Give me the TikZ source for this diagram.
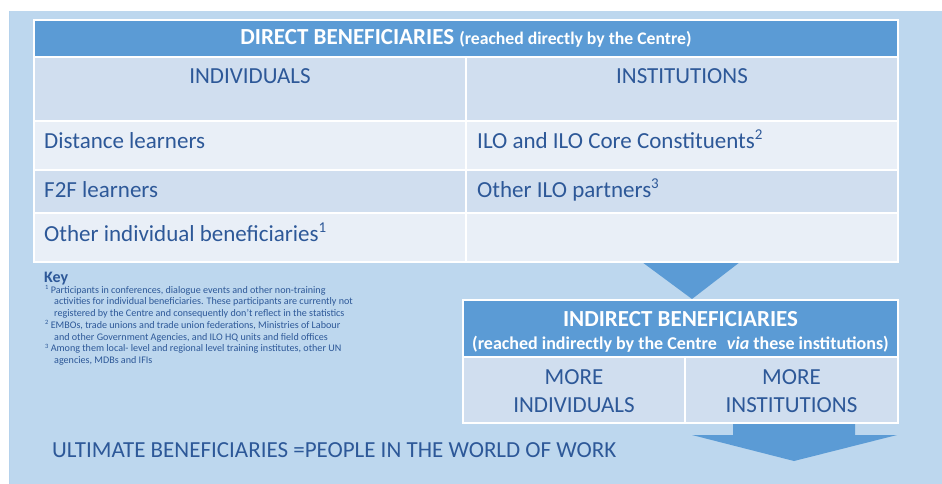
\documentclass[tikz,border=0pt]{standalone}
\usepackage{fontspec}
\setmainfont{Carlito}
\usetikzlibrary{positioning,calc}

\definecolor{panelblue}{HTML}{BDD7EE}
\definecolor{headblue}{HTML}{5B9BD5}
\definecolor{rowdark}{HTML}{D0DEEF}
\definecolor{rowlight}{HTML}{E9EFF7}
\definecolor{inkblue}{HTML}{2D5898}

\newcommand{\fnmark}[1]{\raisebox{0.75ex}{\fontsize{15}{15}\selectfont #1}}
\newcommand{\keymark}[1]{\raisebox{0.7ex}{\fontsize{6.5}{6.5}\selectfont #1}}

\tikzset{
  cell/.style={draw=white, line width=1.5pt, anchor=north west, inner sep=0pt, outer sep=0pt, minimum width=432pt},
  headcell/.style={cell, fill=headblue, text=white, font=\bfseries\fontsize{23}{26}\selectfont},
  celltext/.style={anchor=base west, text=inkblue, inner sep=0pt, font=\fontsize{23}{27}\selectfont},
  coltext/.style={celltext, anchor=base},
  moretext/.style={text=inkblue, align=center, font=\fontsize{23}{28}\selectfont},
  blockarrow/.style={fill=headblue},
}

\begin{document}
\begin{tikzpicture}[x=1pt,y=-1pt]
    \useasboundingbox (0,0) rectangle (942,484);
    \fill[panelblue] (9,11) rectangle (942,484);
    \draw[headblue!45, line width=1pt] (9,11) -- (9,484);

    % arrows between the boxes
    \fill[blockarrow] (642,262) -- (740,262) -- (692,299) -- cycle;
    \fill[blockarrow] (733,423) -- (855,423) -- (855,435) -- (897,435)
        -- (794,461) -- (692,435) -- (733,435) -- cycle;

    % direct beneficiaries
    \node[headcell, minimum width=864pt, minimum height=37pt] (dhead) at (34,20)
        {DIRECT BENEFICIARIES {\fontsize{17.7}{20}\selectfont (reached directly by the Centre)}};
    \node[cell, fill=rowdark, minimum height=64pt] (indiv) at (dhead.south west) {};
    \node[cell, fill=rowdark, minimum height=64pt] (inst) at (indiv.north east) {};
    \node[cell, fill=rowlight, minimum height=49pt] (dist) at (indiv.south west) {};
    \node[cell, fill=rowlight, minimum height=49pt] (ilo) at (dist.north east) {};
    \node[cell, fill=rowdark, minimum height=43pt] (ftf) at (dist.south west) {};
    \node[cell, fill=rowdark, minimum height=43pt] (partn) at (ftf.north east) {};
    \node[cell, fill=rowlight, minimum height=49pt] (othind) at (ftf.south west) {};
    \node[cell, fill=rowlight, minimum height=49pt] (blank) at (othind.north east) {};

    \node[coltext] (tindiv) at ($(indiv.north)+(0,27)$) {INDIVIDUALS};
    \node[coltext] (tinst) at ($(inst.north)+(0,27)$) {INSTITUTIONS};
    \node[celltext] (tdist) at ($(dist.north west)+(10,27)$) {Distance learners};
    \node[celltext] (tftf) at ($(ftf.north west)+(10,27)$) {F2F learners};
    \node[celltext] (tothind) at ($(othind.north west)+(10,28)$) {Other individual beneficiaries\fnmark{1}};
    \node[celltext] (tilo) at ($(ilo.north west)+(11,27)$) {ILO and ILO Core Constituents\fnmark{2}};
    \node[celltext] (tpartn) at ($(partn.north west)+(11,27)$) {Other ILO partners\fnmark{3}};

    % indirect beneficiaries
    \node[headcell, minimum width=435pt, minimum height=57pt] (ihead) at (463,300) {};
    \node[anchor=base, inner sep=0pt, text=white, font=\bfseries\fontsize{23}{26}\selectfont] (tihead)
        at ($(ihead.north)+(0,26)$) {INDIRECT BENEFICIARIES};
    \node[anchor=base, inner sep=0pt, text=white, font=\bfseries\fontsize{18}{20}\selectfont] (tivia)
        at ($(ihead.north)+(0,49)$) {(reached indirectly by the Centre\hspace{6pt} \textit{via} these institutions)};
    \node[cell, fill=rowdark, minimum width=222pt, minimum height=66pt] (moreind) at (ihead.south west) {};
    \node[cell, fill=rowdark, minimum width=213pt, minimum height=66pt] (moreinst) at (moreind.north east) {};
    \node[moretext, anchor=north] (tmoreind) at ($(moreind.north)+(0,9)$) {MORE\\INDIVIDUALS};
    \node[moretext, anchor=north] (tmoreinst) at ($(moreinst.north)+(0,9)$) {MORE\\INSTITUTIONS};

    % key
    \node[anchor=base west, inner sep=0pt, text=inkblue, font=\bfseries\fontsize{16}{18}\selectfont] (key) at (44,282) {Key};
    \node[anchor=north west, inner sep=0pt, text=inkblue, align=left, font=\fontsize{10.1}{11.7}\selectfont] (notes) at (45,285.5)
        {\keymark{1} Participants in conferences, dialogue events and other non-training\\
         \hspace*{9pt}activities for individual beneficiaries. These participants are currently not\\
         \hspace*{9pt}registered by the Centre and consequently don’t reflect in the statistics\\
         \keymark{2} EMBOs, trade unions and trade union federations, Ministries of Labour\\
         \hspace*{9pt}and other Government Agencies, and ILO HQ units and field offices\\
         \keymark{3} Among them local- level and regional level training institutes, other UN\\
         \hspace*{9pt}agencies, MDBs and IFIs};

    \node[celltext] (ultimate) at (52,457) {ULTIMATE BENEFICIARIES =PEOPLE IN THE WORLD OF WORK};
\end{tikzpicture}
\end{document}
